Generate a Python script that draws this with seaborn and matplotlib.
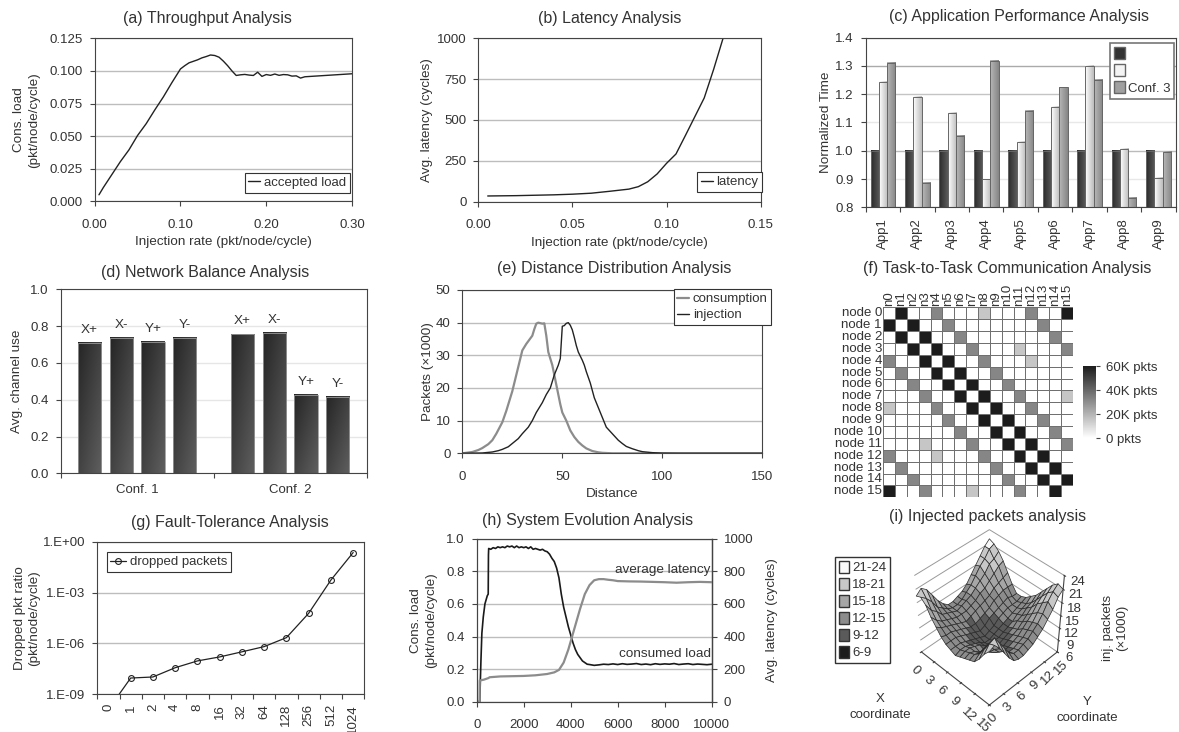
import numpy as np
import matplotlib
matplotlib.use("Agg")
import matplotlib.pyplot as plt
from matplotlib.colors import LinearSegmentedColormap, ListedColormap, BoundaryNorm
from matplotlib.patches import Patch
from matplotlib.ticker import FixedLocator
import seaborn as sns

W, H = 1179, 732
TXT = "#333333"
GRID = "#bdbdbd"
TITLE_SIZE = 11.5

# (a) throughput
thr_x = [.005,.01,.02,.03,.04,.05,.06,.07,.08,.09,.10,.105,.11,.12,.125,.13,.135,.14,.145,.15,.155,.16,.165,.17,.175,.18,.185,.19,.195,.20,.205,.21,.215,.22,.225,.23,.235,.24,.245,.30]
thr_y = [.005,.0105,.0205,.0305,.0395,.0505,.0595,.070,.080,.091,.1015,.104,.1062,.1085,.110,.111,.1122,.1118,.1105,.1075,.104,.100,.0965,.097,.0973,.0968,.0965,.099,.0958,.0972,.0966,.0976,.0966,.0972,.097,.096,.0962,.0945,.0955,.0978]

# (b) latency
lat_x = [.005,.02,.04,.05,.06,.07,.08,.085,.09,.095,.10,.105,.11,.115,.12,.125,.13]
lat_y = [35,37,42,46,52,64,77,92,122,170,235,292,405,520,635,810,1000]

# (c) application performance
apps = ["App1","App2","App3","App4","App5","App6","App7","App8","App9"]
conf1 = [1.0,1.0,1.0,1.0,1.0,1.0,1.0,1.0,1.0]
conf2 = [1.245,1.19,1.135,.899,1.032,1.154,1.30,1.006,.905]
conf3 = [1.31,.885,1.052,1.319,1.142,1.224,1.252,.833,.995]

# (d) network balance
bal_conf = ["Conf. 1"]*4 + ["Conf. 2"]*4
bal_dir = ["X+","X-","Y+","Y-"]*2
bal_use = [.707,.734,.716,.734,.755,.761,.424,.417]

# (e) distance distribution
cons_x = [0,5,8,10,13,15,17,20,22,25,27,30,32,35,36,37,38,40,41,42,43,44,45,46,47,48,49,50,52,54,56,58,60,62,65,68,70,75,150]
cons_y = [0,.4,1,1.6,2.8,4,6,9.5,13,19,24,31.5,33.5,36,38,39.7,40,39.7,39.8,36,31,29,27,24,21,18,15,12.5,10,7,5,3.5,2.4,1.5,.7,.3,.15,0,0]
inj_x = [0,10,15,18,20,23,25,28,30,33,35,37,40,42,43,44,45,46,47,48,49,50,51,52,53,54,55,56,57,58,60,61,62,64,66,68,70,72,75,78,80,82,85,88,90,95,100,110,150]
inj_y = [0,.1,.4,.8,1.2,2,3,4.5,6,8,10,12.5,15.5,18,19,20,22,24,25.5,27,29,38.9,39.1,39.8,40,39.2,37.8,35.5,33,31,28.5,27,25,21.5,17,14,11,8,6,4,3,2.1,1.4,.8,.5,.2,.05,0,0]

# (f) task to task traffic, x1000 packets
comm = [
 [0,60,0,0,32,0,0,0,15,0,0,0,32,0,0,60],
 [60,0,60,0,0,32,0,0,0,0,0,0,0,32,0,0],
 [0,60,0,60,0,0,32,0,0,0,0,0,0,0,32,0],
 [0,0,60,0,60,0,0,32,0,0,0,15,0,0,0,32],
 [32,0,0,60,0,60,0,0,32,0,0,0,15,0,0,0],
 [0,32,0,0,60,0,60,0,0,32,0,0,0,0,0,0],
 [0,0,32,0,0,60,0,60,0,0,32,0,0,0,0,0],
 [0,0,0,32,0,0,60,0,60,0,0,32,0,0,0,15],
 [15,0,0,0,32,0,0,60,0,60,0,0,32,0,0,0],
 [0,0,0,0,0,32,0,0,60,0,60,0,0,32,0,0],
 [0,0,0,0,0,0,32,0,0,60,0,60,0,0,32,0],
 [0,0,0,15,0,0,0,32,0,0,60,0,60,0,0,32],
 [32,0,0,0,15,0,0,0,32,0,0,60,0,60,0,0],
 [0,32,0,0,0,0,0,0,0,32,0,0,60,0,60,0],
 [0,0,32,0,0,0,0,0,0,0,32,0,0,60,0,60],
 [60,0,0,32,0,0,0,15,0,0,0,32,0,0,60,0],
]
col_names = ["n%d" % i for i in range(16)]
row_names = ["node %d" % i for i in range(16)]

# (g) fault tolerance
flits = ["0","1","2","4","8","16","32","64","128","256","512","1024"]
dropped = [1.3e-10,9.1e-9,1.05e-8,3.7e-8,9.3e-8,1.6e-7,3.2e-7,6.5e-7,2.2e-6,6e-5,5.5e-3,2.3e-1]

# (h) system evolution
load_t = [0,130,150,180,220,280,350,450,490,500,510,600,700,800,900,1000,1100,1200,1300,1400,1500,1600,1700,1800,1900,2000,2100,2200,2300,2400,2500,2600,2700,2800,2900,3000,3100,3200,3300,3400,3500,3600,3700,3800,3900,4000,4100,4200,4300,4400,4500,4600,4700,4800,5000,5200,5400,5600,5800,6000,6200,6400,6600,6800,7000,7200,7400,7600,7800,8000,8200,8400,8600,8800,9000,9200,9400,9600,9800,10000]
load_v = [0,0,.10,.25,.42,.52,.60,.65,.66,.90,.94,.935,.945,.94,.95,.945,.95,.945,.955,.95,.955,.945,.955,.945,.95,.945,.95,.94,.95,.935,.94,.935,.93,.935,.925,.92,.905,.88,.86,.82,.76,.66,.58,.52,.46,.41,.36,.32,.29,.27,.25,.24,.23,.228,.223,.226,.23,.228,.232,.228,.233,.229,.231,.234,.228,.231,.227,.233,.229,.232,.23,.234,.228,.231,.233,.228,.231,.229,.227,.23]
lat_t = [0,120,130,300,500,550,1000,2000,2500,3000,3300,3500,3700,3900,4000,4100,4200,4400,4600,4800,5000,5200,5400,5600,5800,6000,6500,7000,7500,8000,8500,9000,9500,10000]
lat_v = [0,0,130,135,145,150,155,158,162,170,180,195,240,320,370,420,470,570,660,715,745,752,752,748,745,740,738,737,735,733,730,733,735,733]

# (i) injected packets per node, x1000
inj_grid = [
 [19.5,20.5,19.5,17.5,15.5,14.0,13.0,13.0,13.5,14.0,15.0,16.5,18.0,19.5,21.0,22.0],
 [20.0,19.0,17.5,15.5,14.5,13.5,13.0,13.0,13.5,14.5,15.5,17.0,18.5,19.5,21.0,21.5],
 [19.0,17.0,16.0,14.5,14.0,13.5,13.0,13.5,14.0,14.5,15.5,16.5,17.5,19.0,19.5,20.5],
 [17.0,15.5,14.5,14.0,13.5,13.0,13.0,13.0,13.5,14.0,15.0,15.5,16.5,17.5,18.5,19.0],
 [15.5,14.5,14.0,13.5,13.0,12.5,12.0,12.5,13.0,13.5,14.0,14.5,15.5,16.0,16.5,17.0],
 [14.0,13.5,13.5,13.0,12.5,12.0,11.5,11.5,12.0,12.5,13.0,14.0,14.5,15.0,15.0,15.0],
 [13.0,13.0,13.0,12.5,12.0,11.5,11.0,10.5,11.0,12.0,12.5,13.0,13.5,14.0,13.5,13.5],
 [12.5,12.5,12.5,12.0,11.5,11.0,10.5,10.0,10.5,11.0,12.0,12.5,13.0,13.0,13.0,13.5],
 [12.0,12.5,12.5,12.0,11.5,11.0,10.0,10.0,10.5,11.0,11.5,12.0,12.5,13.0,13.5,14.0],
 [12.5,13.0,13.0,12.5,12.0,11.0,10.5,10.5,10.5,11.0,11.5,12.0,13.0,13.5,14.0,15.0],
 [13.0,13.5,13.0,12.0,11.5,11.0,10.5,10.5,11.0,11.5,12.0,13.0,13.5,14.5,15.0,16.0],
 [13.5,14.0,13.5,13.0,12.0,11.0,10.5,11.0,11.5,12.0,12.5,13.5,14.5,15.5,16.5,17.5],
 [14.0,15.0,15.5,15.0,13.5,12.0,11.5,11.5,12.0,12.5,13.5,14.5,15.5,17.0,18.0,19.0],
 [15.5,17.0,17.5,16.5,14.5,13.0,12.0,12.0,12.5,13.0,14.0,15.0,16.5,18.0,19.5,20.5],
 [17.5,19.0,19.5,17.5,15.5,13.5,12.5,12.5,13.0,13.5,14.5,15.5,17.0,19.0,20.5,21.5],
 [19.0,19.5,18.0,16.0,14.0,12.5,12.0,12.0,12.5,13.0,14.0,15.0,16.5,18.0,20.0,21.0],
]
band_edges = [6,9,12,15,18,21,24]
band_cols = ["#1c1c1c","#5a5a5a","#8c8c8c","#a6a6a6","#c8c8c8","#f8f8f8"]
band_names = ["21-24","18-21","15-18","12-15","9-12","6-9"]

sns.set_theme(style="white", rc={
    "font.family": ["Liberation Sans", "DejaVu Sans"],
    "font.size": 9.5,
    "text.color": TXT,
    "axes.labelcolor": TXT,
    "axes.labelsize": 9.7,
    "axes.edgecolor": "#444444",
    "axes.linewidth": 0.8,
    "xtick.color": "#444444",
    "ytick.color": "#444444",
    "xtick.labelcolor": TXT,
    "ytick.labelcolor": TXT,
    "xtick.labelsize": 9.5,
    "ytick.labelsize": 9.5,
    "xtick.bottom": True,
    "ytick.left": True,
    "xtick.major.size": 3.5,
    "ytick.major.size": 3.5,
    "xtick.major.width": 0.8,
    "ytick.major.width": 0.8,
    "ytick.major.pad": 5,
    "grid.color": GRID,
    "grid.linewidth": 1.0,
    "legend.fontsize": 9.5,
})

fig = plt.figure(figsize=(W / 100, H / 100), dpi=100)


def px_axes(left, top, right, bottom, **kw):
    return fig.add_axes([left / W, 1 - bottom / H, (right - left) / W, (bottom - top) / H], **kw)


def px_text(x, y, s, **kw):
    kw.setdefault("ha", "center")
    kw.setdefault("va", "center")
    fig.text(x / W, 1 - y / H, s, **kw)


def base(ax):
    ax.set_axisbelow(True)
    ax.grid(True, axis="y")
    for s in ax.spines.values():
        s.set_visible(True)


def box_legend(ax, handles, labels, anchor, **kw):
    kw.setdefault("labelspacing", 0.3)
    kw.setdefault("handlelength", 0.9)
    kw.setdefault("handletextpad", 0.25)
    leg = ax.legend(handles, labels, loc="upper left", bbox_to_anchor=anchor, bbox_transform=fig.transFigure,
                    frameon=True, fancybox=False, framealpha=1, edgecolor="#333333",
                    borderpad=0.3, borderaxespad=0, **kw)
    leg.get_frame().set_linewidth(0.8)
    return leg


def fp(x, y):
    return (x / W, 1 - y / H)


def boundary_ticks(ax, n):
    ax.xaxis.set_major_locator(FixedLocator(range(n)))
    ax.xaxis.set_minor_locator(FixedLocator([i - 0.5 for i in range(n + 1)]))
    ax.tick_params(axis="x", which="major", length=0)
    ax.tick_params(axis="x", which="minor", length=3.5, width=0.8, bottom=True)


def gradient_bars(ax, patches, left, right, diag=False):
    # paint the gradient over the bars seaborn placed
    xlim, ylim = ax.get_xlim(), ax.get_ylim()
    cmap = LinearSegmentedColormap.from_list("g", [left, right])
    for p in patches:
        x0, w = p.get_x(), p.get_width()
        y0, y1 = max(p.get_y(), ylim[0]), p.get_y() + p.get_height()
        yy, xx = np.mgrid[0:1:20j, 0:1:20j]
        grad = (xx * 0.5 + yy * 0.5) if diag else xx
        ax.imshow(grad, extent=(x0, x0 + w, y0, y1), cmap=cmap, vmin=0, vmax=1, aspect="auto",
                  origin="upper", zorder=1, interpolation="bilinear")
        p.set_facecolor("none")
        p.set_zorder(1.5)
    ax.set_xlim(xlim)
    ax.set_ylim(ylim)


# (a)
ax = px_axes(94.7, 38.3, 352, 201.3)
sns.lineplot(x=thr_x, y=thr_y, ax=ax, color="#222222", lw=1, estimator=None, sort=False, label="accepted load")
ax.set(xlim=(0, .30), ylim=(0, .125), xticks=[0, .1, .2, .3], yticks=[0, .025, .05, .075, .1, .125])
ax.set_xticklabels(["0.00", "0.10", "0.20", "0.30"])
ax.set_yticklabels(["0.000", "0.025", "0.050", "0.075", "0.100", "0.125"])
ax.tick_params(axis="x", pad=9)
ax.set_xlabel("Injection rate (pkt/node/cycle)", labelpad=4)
ax.set_ylabel("Cons. load\n(pkt/node/cycle)", labelpad=7, linespacing=1.3)
base(ax)
h, l = ax.get_legend_handles_labels()
box_legend(ax, h, l, fp(244.5, 172.5))
px_text(207, 18, "(a) Throughput Analysis", fontsize=TITLE_SIZE)

# (b)
ax = px_axes(478.3, 38.3, 760.7, 201.7)
sns.lineplot(x=lat_x, y=lat_y, ax=ax, color="#222222", lw=1, estimator=None, sort=False, label="latency")
ax.set(xlim=(0, .15), ylim=(0, 1000), xticks=[0, .05, .1, .15], yticks=[0, 250, 500, 750, 1000])
ax.set_xticklabels(["0.00", "0.05", "0.10", "0.15"])
ax.tick_params(axis="x", pad=9)
ax.set_xlabel("Injection rate (pkt/node/cycle)", labelpad=4)
ax.set_ylabel("Avg. latency (cycles)", labelpad=3)
base(ax)
h, l = ax.get_legend_handles_labels()
box_legend(ax, h, l, fp(697, 172))
px_text(610, 18, "(b) Latency Analysis", fontsize=TITLE_SIZE)

# (c)
ax = px_axes(865.7, 37.7, 1175.7, 207.3)
names = apps * 3
confs = ["Conf. 1"] * 9 + ["Conf. 2"] * 9 + ["Conf. 3"] * 9
sns.barplot(x=names, y=conf1 + conf2 + conf3, hue=confs, ax=ax, width=.72, gap=0, legend=False,
            edgecolor="#666666", linewidth=0.7, palette=["#333333", "#f0f0f0", "#a0a0a0"])
ax.set(xlim=(-.5, 8.5), ylim=(.8, 1.4), yticks=[.8, .9, 1, 1.1, 1.2, 1.3, 1.4])
ax.set_ylabel("Normalized Time", labelpad=2)
base(ax)
boundary_ticks(ax, 9)
ax.set_xticks(range(9))
ax.set_xticklabels(apps, rotation=90)
ax.tick_params(axis="x", which="major", pad=8)
for gl, c in zip(ax.get_ygridlines(), ["#bbb", "#e8e8e8", "#bbb", "#e8e8e8", "#c4c4c4", "#aaa", "#bbb"]):
    gl.set_color(c)
for cont, (c0, c1) in zip(ax.containers, [("#2b2b2b", "#5a5a5a"), ("#ffffff", "#bdbdbd"), ("#b8b8b8", "#868686")]):
    gradient_bars(ax, list(cont), c0, c1)
handles = [Patch(fc="#333333", ec="#666666"), Patch(fc="#f4f4f4", ec="#666666"), Patch(fc="#a0a0a0", ec="#666666")]
leg = box_legend(ax, handles, ["", "", "Conf. 3"], fp(1110, 43), handleheight=1.0, handlelength=0.8, labelspacing=0.28)
leg.get_frame().set_edgecolor("#777777")
leg.get_frame().set_linewidth(1.2)
px_text(1019, 17, "(c) Application Performance Analysis", fontsize=TITLE_SIZE)

# (d)
ax = px_axes(60.7, 289.3, 366.7, 473.3)
sns.barplot(x=bal_conf, y=bal_use, hue=bal_dir, ax=ax, width=.83, gap=.27, legend=False,
            palette=["#444444"] * 4, edgecolor="#999999", linewidth=0.6)
ax.set(xlim=(-.5, 1.5), ylim=(0, 1), yticks=[0, .2, .4, .6, .8, 1])
ax.set_ylabel("Avg. channel use", labelpad=5)
base(ax)
ax.grid(True, axis="y", color="#e6e6e6")
boundary_ticks(ax, 2)
ax.set_xticks([0, 1])
ax.set_xticklabels(["Conf. 1", "Conf. 2"])
ax.tick_params(axis="x", which="major", pad=8)
for cont, lab in zip(ax.containers, ["X+", "X-", "Y+", "Y-"]):
    ax.bar_label(cont, labels=[lab] * len(cont), padding=5, fontsize=9.7, color=TXT)
    gradient_bars(ax, list(cont), "#262626", "#5e5e5e", diag=True)
px_text(205, 272, "(d) Network Balance Analysis", fontsize=TITLE_SIZE)

# (e)
ax = px_axes(462.3, 290, 762.3, 453.3)
sns.lineplot(x=cons_x, y=cons_y, ax=ax, color="#8c8c8c", lw=1.6, estimator=None, sort=False, label="consumption")
sns.lineplot(x=inj_x, y=inj_y, ax=ax, color="#222222", lw=1, estimator=None, sort=False, label="injection")
ax.set(xlim=(0, 150), ylim=(0, 50), xticks=[0, 50, 100, 150], yticks=[0, 10, 20, 30, 40, 50])
ax.tick_params(axis="x", pad=9)
ax.set_xlabel("Distance", labelpad=4)
ax.set_ylabel("Packets (×1000)", labelpad=1)
base(ax)
h, l = ax.get_legend_handles_labels()
box_legend(ax, h, l, fp(673.5, 289))
px_text(614, 269, "(e) Distance Distribution Analysis", fontsize=TITLE_SIZE)

# (f)
ax = px_axes(883.3, 307.3, 1072.7, 497.3)
cax = px_axes(1083.3, 366, 1096, 438)
greys = LinearSegmentedColormap.from_list("g", ["#ffffff", "#1c1c1c"])
sns.heatmap(np.array(comm), ax=ax, cbar_ax=cax, cmap=greys, vmin=0, vmax=60, linewidths=0.6, linecolor="#707070",
            xticklabels=col_names, yticklabels=row_names, square=False, cbar_kws={"ticks": [0, 20, 40, 60]})
ax.xaxis.tick_top()
ax.tick_params(axis="both", length=0, pad=1)
ax.set_xticklabels(col_names, rotation=90)
ax.set_yticklabels(row_names, rotation=0)
cax.set_yticklabels(["0 pkts", "20K pkts", "40K pkts", "60K pkts"])
cax.tick_params(length=3, width=0.8, pad=4, right=True)
px_text(1007, 268, "(f) Task-to-Task Communication Analysis", fontsize=TITLE_SIZE)

# (g)
ax = px_axes(97.3, 541.7, 364.3, 694.3)
sns.lineplot(x=flits, y=dropped, ax=ax, color="#222222", lw=0.9, estimator=None, sort=False, marker="o",
             markerfacecolor="none", markeredgecolor="#222222", markersize=4.2, markeredgewidth=0.8, label="dropped packets")
ax.set_yscale("log")
ax.set(xlim=(-.5, 11.5), ylim=(1e-9, 1))
ax.set_yticks([1e-9, 1e-6, 1e-3, 1])
ax.set_yticklabels(["1.E-09", "1.E-06", "1.E-03", "1.E+00"])
ax.minorticks_off()
ax.set_ylabel("Dropped pkt ratio\n(pkt/node/cycle)", labelpad=2, linespacing=1.2)
base(ax)
boundary_ticks(ax, 12)
ax.set_xticks(range(12))
ax.set_xticklabels(flits, rotation=90)
ax.tick_params(axis="x", which="major", pad=7)
h, l = ax.get_legend_handles_labels()
box_legend(ax, h, l, fp(106.5, 552.3), handlelength=1.2)
px_text(230, 523, "(g) Fault-Tolerance Analysis", fontsize=TITLE_SIZE)

# (h)
ax = px_axes(476.7, 538.7, 711.7, 701.7)
sns.lineplot(x=load_t, y=load_v, ax=ax, color="#1a1a1a", lw=1.2, estimator=None, sort=False)
ax.set(xlim=(0, 10000), ylim=(0, 1), xticks=range(0, 10001, 2000), yticks=[0, .2, .4, .6, .8, 1])
ax.tick_params(axis="x", pad=9)
ax.set_ylabel("Cons. load\n(pkt/node/cycle)", labelpad=7, linespacing=1.3)
base(ax)
ax2 = ax.twinx()
sns.lineplot(x=lat_t, y=lat_v, ax=ax2, color="#8c8c8c", lw=1.6, estimator=None, sort=False)
ax2.set(ylim=(0, 1000), yticks=[0, 200, 400, 600, 800, 1000])
ax2.tick_params(axis="y", right=True, left=False, length=3.5)
ax2.set_ylabel("Avg. latency (cycles)", labelpad=9)
ax2.grid(False)
ax.text(9950, .805, "average latency", ha="right", va="center", fontsize=9.7)
ax.text(9950, .29, "consumed load", ha="right", va="center", fontsize=9.7)
ax.spines["right"].set_linewidth(1.0)
px_text(588, 520, "(h) System Evolution Analysis", fontsize=TITLE_SIZE)

# (i)
Z = np.array(inj_grid)
xs = np.arange(16)
ys = np.arange(16)
YY, XX = np.meshgrid(ys, xs)
cell = (Z[:-1, :-1] + Z[1:, :-1] + Z[:-1, 1:] + Z[1:, 1:]) / 4
norm = BoundaryNorm(band_edges, len(band_cols))
face = ListedColormap(band_cols)(norm(cell))
ax3 = fig.add_axes([821 / W, 1 - 744 / H, 330 / W, 250 / H], projection="3d")
ax3.patch.set_alpha(0)
ax3.set_proj_type("persp", focal_length=0.55)
ax3.view_init(elev=44, azim=-45)
ax3.set_box_aspect((1, 1, 1.05), zoom=0.69)
ax3.plot_surface(XX, YY, Z, facecolors=face, rstride=1, cstride=1, edgecolor="#2a2a2a", linewidth=0.5, shade=False)
ax3.set(xlim=(0, 15), ylim=(0, 15), zlim=(6, 24))
ax3.set_xticks([0, 3, 6, 9, 12, 15])
ax3.set_yticks([0, 3, 6, 9, 12, 15])
ax3.set_zticks([6, 9, 12, 15, 18, 21, 24])
ax3.tick_params(axis="x", labelsize=9.5, pad=1, labelrotation=-45)
ax3.tick_params(axis="y", labelsize=9.5, pad=-3, labelrotation=45)
ax3.tick_params(axis="z", labelsize=9.5, pad=0)
for a in (ax3.xaxis, ax3.yaxis):
    a._axinfo["grid"].update(linewidth=0)
    a.set_pane_color((1, 1, 1, 0))
ax3.zaxis.set_pane_color((1, 1, 1, 0))
ax3.zaxis._axinfo["grid"].update(color="#999999", linewidth=0.7)
ax3.xaxis.pane.set_edgecolor("#888888")
ax3.yaxis.pane.set_edgecolor("#888888")
handles = [Patch(fc=c, ec="#333333") for c in band_cols[::-1]]
leg = box_legend(ax3, handles, band_names, fp(835, 557), handleheight=1.0, handlelength=0.75, labelspacing=0.27)
leg.get_frame().set_linewidth(1.0)
px_text(880, 699, "X")
px_text(880, 715, "coordinate")
px_text(1087, 702, "Y")
px_text(1087, 718, "coordinate")
px_text(1115, 628, "inj. packets\n(×1000)", rotation=90)
px_text(988, 516, "(i) Injected packets analysis", fontsize=TITLE_SIZE)

fig.savefig("out.png", dpi=100)
